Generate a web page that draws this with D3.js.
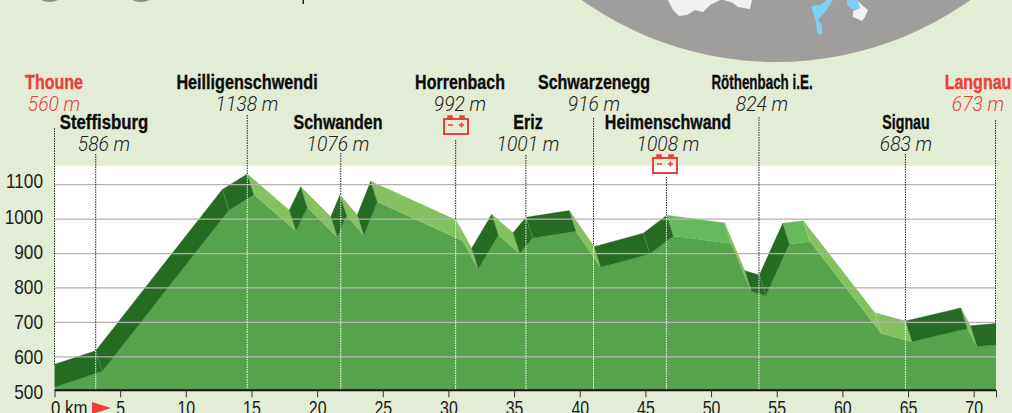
<!DOCTYPE html>
<html lang="fr">
<head>
  <meta charset="UTF-8">
  <title>Thoune - Langnau</title>
  <script src="https://cdn.jsdelivr.net/npm/d3@7"></script>
  <style>
    html, body { margin: 0; padding: 0; background: #e3ecd5; overflow: hidden; }
    svg { display: block; }
    text { font-family: "Liberation Sans", sans-serif; }
    .name { font-weight: bold; font-size: 20px; stroke-width: 0.35px; }
    .alt { font-family: Roboto, "Liberation Sans", sans-serif; font-style: italic; font-weight: 300; font-size: 21px; }
    .axis text { font-size: 21px; fill: #1c1c1c; }
  </style>
</head>
<body>
  <div id="chart"></div>
  <script>
    // profil: arete arriere du ruban (km / altitude)
    var ridgeKm = [-0.5, 3.14, 12.78, 14.68, 17.88, 18.75, 21.04, 21.74, 23.06, 24.08, 30.58, 31.77, 33.3, 34.92, 35.91, 39.21, 41.09, 44.84, 46.63, 51.04, 52.57, 53.68, 55.46, 57.03, 62.47, 64.8, 69.02, 69.75, 71.7];
    var ridgeElev = [572, 618, 1086, 1131, 1026, 1094, 1007, 1071, 1012, 1110, 997, 915, 1014, 960, 1005, 1025, 920, 959, 1011, 989, 850, 838, 988, 995, 728, 704, 742, 690, 697];
    // face of each ribbon segment: u = dark, d = light, f = bright
    var segmentFace = ["u","u","u","d","u","d","u","d","u","d","d","u","d","u","u","d","u","u","f","d","u","u","f","d","d","u","d","u"];

    var placeNames = ["Thoune", "Steffisburg", "Heilligenschwendi", "Schwanden", "Horrenbach", "Eriz", "Schwarzenegg", "Heimenschwand", "Röthenbach i.E.", "Signau", "Langnau"];
    var placeAlt = [560, 586, 1138, 1076, 992, 1001, 916, 1008, 824, 683, 673];
    var placeKm = [0, 3.14, 14.68, 21.8, 30.55, 35.9, 41.05, 46.6, 53.65, 64.8, 71.7];

    var elevTicks = [500, 600, 700, 800, 900, 1000, 1100];
    var kmTicks = [0, 5, 10, 15, 20, 25, 30, 35, 40, 45, 50, 55, 60, 65, 70];

    // mise en page des etiquettes (meme ordre que placeNames)
    var labelRow = [0, 1, 0, 1, 0, 1, 0, 1, 0, 1, 0];
    var labelCenter = [54, 104, 247, 338, 460, 528, 594, 668, 762, 906, 978];
    var labelStretch = [0.8, 0.84, 0.81, 0.8, 0.8, 0.8, 0.8, 0.8, 0.67, 0.71, 0.8];
    var leaderTop = [128, 154, 115, 153, 140, 155, 118, 177, 117, 154, 120];
    var batteries = [[443, 115], [652, 154]];

    var width = 1012, height = 413;
    var red = "#ee3d3b";
    var depthKm = 0.5, depthElev = -60;
    var faceColor = { u: "#266b22", d: "#84c160", f: "#66b95e" };

    var x = d3.scaleLinear().domain([0, 71.7]).range([54.5, 996]);
    var y = d3.scaleLinear().domain([500, 1155]).range([391.3, 165.7]);

    var svg = d3.select("#chart").append("svg").attr("width", width).attr("height", height);

    // bout de carte en haut
    svg.append("circle").attr("cx", 776).attr("cy", -274).attr("r", 336).attr("fill", "#9f9e9d");
    var alps = ["668,0 673,10 679,16 687,15 695,10 703,12 710,5 720,0", "724,0 733,3 738,7 750,9 752,0", "857,0 862,5 868,10 865,17 862,21 853,17 853,11 860,8"];
    var lakes = ["811,6 820,5 827,0 833,0 825,12 818,20 822,25 822,35 817,33 816,22", "847,0 847,5 853,10 860,8 857,0"];
    svg.selectAll(".alp").data(alps).enter().append("polygon").attr("class", "alp").attr("points", function(d){ return d; }).attr("fill", "#f1f1f0");
    svg.selectAll(".lake").data(lakes).enter().append("polygon").attr("class", "lake").attr("points", function(d){ return d; }).attr("fill", "#7fd0f5");

    // restes du bandeau du haut
    svg.append("ellipse").attr("cx", 49.5).attr("cy", -6).attr("rx", 13).attr("ry", 8).attr("fill", "#8b907c");
    svg.append("ellipse").attr("cx", 141).attr("cy", -6).attr("rx", 13).attr("ry", 8).attr("fill", "#8b907c");
    svg.append("rect").attr("x", 302.5).attr("y", 0).attr("width", 1.5).attr("height", 4).attr("fill", "#222");

    // zone du graphique
    svg.append("rect").attr("x", x(0)).attr("y", y(1155)).attr("width", x(71.7) - x(0)).attr("height", y(500) - y(1155)).attr("fill", "white");
    svg.append("clipPath").attr("id", "plot").append("rect").attr("x", x(0)).attr("y", y(1155)).attr("width", x(71.7) - x(0)).attr("height", y(500) - y(1155));

    var back = ridgeKm.map(function(k, i){ return [x(k), y(ridgeElev[i])]; });
    var front = ridgeKm.map(function(k, i){ return [x(k + depthKm), y(ridgeElev[i] + depthElev)]; });
    var line = d3.line();

    var relief = svg.append("g").attr("clip-path", "url(#plot)");
    var segments = segmentFace.map(function(f, i){
      return { face: f, pts: [back[i], back[i + 1], front[i + 1], front[i]] };
    });

    function drawFaces(filter){
      relief.append("g").selectAll("path").data(segments.filter(filter)).enter().append("path")
        .attr("d", function(d){ return line(d.pts) + "Z"; })
        .attr("fill", function(d){ return faceColor[d.face]; })
        .attr("stroke", function(d){ return faceColor[d.face]; })
        .attr("stroke-width", 0.4);
    }

    // face avant
    var frontArea = d3.area().x(function(d){ return d[0]; }).y0(y(500)).y1(function(d){ return d[1]; });
    relief.append("path").attr("d", frontArea(front)).attr("fill", "#56a24d");
    drawFaces(function(d){ return d.face != "u"; });

    // grille
    svg.append("g").selectAll("line").data(elevTicks.slice(1)).enter().append("line")
      .attr("x1", x(0)).attr("x2", x(71.7))
      .attr("y1", function(d){ return y(d); }).attr("y2", function(d){ return y(d); })
      .attr("stroke", "#b4b2ae").attr("stroke-width", 1.2);

    drawFaces(function(d){ return d.face == "u"; });

    // petites aretes entre les facettes
    relief.append("g").selectAll("line").data(d3.range(1, back.length - 1)).enter().append("line")
      .attr("x1", function(i){ return back[i][0]; }).attr("y1", function(i){ return back[i][1]; })
      .attr("x2", function(i){ return front[i][0]; }).attr("y2", function(i){ return front[i][1]; })
      .attr("stroke", "white").attr("stroke-opacity", 0.22).attr("stroke-width", 0.7);

    // altitude de l'arete pour le trait pointille
    function ridgeAt(km){
      var i = Math.min(d3.bisectRight(ridgeKm, km), ridgeKm.length - 1);
      return d3.scaleLinear().domain([ridgeKm[i - 1], ridgeKm[i]]).range([ridgeElev[i - 1], ridgeElev[i]])(km);
    }

    var leaders = svg.append("g");
    placeKm.forEach(function(km, i){
      var px = x(km);
      var edge = Math.max(Math.min(px, x(71.7) - 0.5), x(0) - 0.5);
      leaders.append("line").attr("x1", edge).attr("x2", edge).attr("y1", leaderTop[i]).attr("y2", y(ridgeAt(km)))
        .attr("stroke", "#222").attr("stroke-width", 1).attr("stroke-dasharray", "1.5,1");
      if (i > 0 && i < placeKm.length - 1) {
        leaders.append("line").attr("x1", edge).attr("x2", edge).attr("y1", y(ridgeAt(km))).attr("y2", y(500))
          .attr("stroke", "white").attr("stroke-width", 1).attr("stroke-dasharray", "1.5,1");
      }
    });

    // axes
    var axisY = svg.append("g").attr("class", "axis").attr("transform", "translate(43,0)")
      .call(d3.axisLeft(y).tickValues(elevTicks).tickSize(0).tickPadding(0).tickFormat(d3.format("d")));
    axisY.select(".domain").remove();
    // les chiffres de l'original montent un peu plus vite que la grille
    axisY.selectAll("text").attr("dy", "0.35em").attr("x", 0)
      .attr("transform", function(d){ return "translate(0," + (-(d - 500) * 0.0067) + ") scale(0.82,1)"; });

    var axisX = svg.append("g").attr("class", "axis").attr("transform", "translate(0," + (y(500) - 1) + ")")
      .call(d3.axisBottom(x).tickValues(kmTicks.concat([71.7])).tickSize(7).tickPadding(3)
        .tickFormat(function(d){ return d == 71.7 ? "" : d == 0 ? "0 km" : d; }));
    axisX.select(".domain").attr("stroke", "#111").attr("stroke-width", 2).attr("d", "M" + x(0) + ",0H" + x(71.7));
    axisX.selectAll(".tick line").attr("stroke", "#333").attr("stroke-width", 1);
    axisX.selectAll(".tick text").attr("transform", "scale(0.76,1)");
    axisX.selectAll(".tick text").filter(function(d){ return d == 0; }).attr("text-anchor", "start").attr("transform", "translate(-4,0) scale(0.8,1)");

    // fleche de depart
    svg.append("polygon").attr("points", "92,402 111,408 92,414").attr("fill", red);

    // noms et altitudes
    var labels = svg.append("g").selectAll("g").data(placeNames).enter().append("g")
      .attr("transform", function(d, i){ return "translate(" + labelCenter[i] + "," + (labelRow[i] * 40) + ")"; })
      .attr("text-anchor", "middle");
    labels.append("text").attr("class", "name")
      .attr("transform", function(d, i){ return "translate(0,89) scale(" + labelStretch[i] + ",1)"; })
      .text(function(d){ return d; })
      .attr("fill", function(d, i){ return (i == 0 || i == placeNames.length - 1) ? red : "#0c0c0c"; })
      .attr("stroke", function(d, i){ return (i == 0 || i == placeNames.length - 1) ? red : "#0c0c0c"; });
    labels.append("text").attr("class", "alt").attr("transform", "translate(0,111) scale(0.92,1)").text(function(d, i){ return placeAlt[i] + " m"; })
      .attr("fill", function(d, i){ return (i == 0 || i == placeNames.length - 1) ? red : "#222"; });

    // icones batterie
    var bat = svg.append("g").selectAll("g").data(batteries).enter().append("g")
      .attr("transform", function(d){ return "translate(" + d[0] + "," + d[1] + ")"; })
      .attr("stroke", red).attr("fill", "none");
    bat.append("rect").attr("x", 1).attr("y", 4).attr("width", 24).attr("height", 15).attr("stroke-width", 2);
    bat.append("path").attr("d", "M5,3.5V1H9V3.5M17,3.5V1H21V3.5").attr("stroke-width", 1.5).attr("fill", red);
    bat.append("path").attr("d", "M5,10H10M16,10H21M18.5,7.5V12.5").attr("stroke-width", 1.6);
  </script>
</body>
</html>
